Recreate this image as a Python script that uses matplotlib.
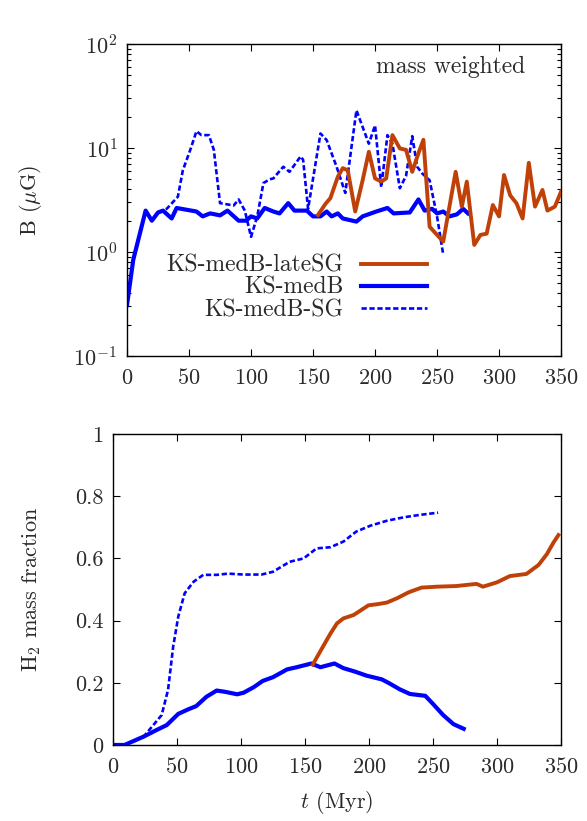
import numpy as np
import matplotlib
matplotlib.use('Agg')
import matplotlib.pyplot as plt
from matplotlib.ticker import LogLocator, LogFormatterMathtext, NullFormatter, MultipleLocator

plt.rcParams['font.family'] = ['cmr10', 'DejaVu Serif']
plt.rcParams['mathtext.fontset'] = 'cm'
plt.rcParams['axes.formatter.use_mathtext'] = True
plt.rcParams['font.size'] = 16

orange = '#c04108'
blue = '#0000ff'
txt = '#2a2a2a'
fs = 16

#%% B field, mass weighted (Myr, muG)
t_B = [0, 5, 15, 20, 25, 29, 36, 40, 56, 61, 67, 75, 81, 90, 96, 100, 105, 111, 118, 123,
       130, 135, 145, 150, 156, 161, 165, 170, 174, 185, 190, 201, 210, 215, 228, 235, 240,
       246, 250, 255, 260, 266, 271, 275]
B_medB = [0.31, 0.84, 2.5, 2.0, 2.4, 2.5, 2.1, 2.65, 2.45, 2.2, 2.35, 2.25, 2.5, 2.0, 2.0, 2.2,
          2.1, 2.65, 2.45, 2.35, 2.95, 2.5, 2.5, 2.2, 2.2, 2.45, 2.2, 2.35, 2.1, 1.96, 2.2, 2.45,
          2.65, 2.35, 2.4, 3.2, 2.5, 2.6, 2.35, 2.45, 2.2, 2.3, 2.6, 2.35]

t_B_SG = [0, 5, 15, 20, 25, 32, 41, 45, 51, 56, 60, 66, 70, 75, 86, 90, 95, 100, 105, 110, 115,
          118, 126, 131, 140, 142, 146, 156, 161, 169, 176, 185, 195, 200, 205, 210, 214, 220,
          225, 230, 234, 238, 244, 250, 255]
B_SG = [0.31, 0.84, 2.5, 2.0, 2.4, 2.6, 3.4, 6.1, 9.6, 14.5, 13.3, 13.3, 9.6, 2.95, 2.8, 3.2,
        2.5, 1.4, 2.2, 4.6, 5.0, 5.1, 6.6, 5.9, 8.3, 7.7, 2.6, 13.8, 11.9, 6.6, 3.7, 23.0, 11.0,
        16.5, 4.2, 13.3, 11.0, 4.1, 5.4, 13.0, 6.6, 5.7, 4.9, 2.2, 0.94]

t_B_late = [154, 160, 164, 170, 174, 178, 184, 190, 195, 200, 205, 209, 214, 220, 225, 230, 235,
            239, 244, 250, 255, 259, 265, 270, 274, 280, 285, 290, 295, 300, 304, 309, 314, 319,
            324, 329, 335, 339, 345, 350]
B_late = [2.27, 2.9, 3.3, 5.3, 6.4, 6.1, 2.45, 4.9, 9.2, 5.1, 4.75, 5.1, 13.3, 9.9, 9.6, 5.9, 8.9,
          12.0, 1.75, 1.46, 1.26, 2.35, 5.9, 2.73, 4.75, 1.17, 1.46, 1.5, 2.83, 2.2, 5.5, 3.5, 2.95,
          2.1, 7.2, 2.73, 3.95, 2.5, 2.73, 3.8]

#%% H2 mass fraction
t_H2 = [0, 9, 24, 34, 42, 51, 59, 65, 73, 81, 87.5, 97, 102, 110, 117, 125, 136, 143.5, 155,
        162, 173, 180, 189, 198, 210, 216, 224, 232, 244, 250, 258, 266, 274]
f_medB = [0, 0, 0.027, 0.048, 0.064, 0.10, 0.115, 0.125, 0.155, 0.175, 0.171, 0.163, 0.168,
          0.186, 0.206, 0.218, 0.243, 0.25, 0.262, 0.25, 0.262, 0.247, 0.236, 0.223, 0.211,
          0.198, 0.179, 0.164, 0.158, 0.132, 0.096, 0.067, 0.052]

t_H2_SG = [0, 9, 24, 31.5, 38, 43, 47, 51, 56, 63, 70.5, 81, 90, 102, 116, 125, 138, 149, 159,
           170, 180, 190, 201, 214, 227, 240, 254]
f_SG = [0, 0, 0.027, 0.064, 0.096, 0.177, 0.316, 0.413, 0.488, 0.525, 0.547, 0.547, 0.551,
        0.548, 0.548, 0.557, 0.589, 0.60, 0.632, 0.636, 0.654, 0.686, 0.705, 0.721, 0.732,
        0.74, 0.747]

t_H2_late = [156, 164, 170, 175, 180, 188, 194, 199.5, 207, 214, 222, 231, 241, 253, 268, 284,
             289, 300, 310, 323, 332.5, 339, 344, 348]
f_late = [0.258, 0.316, 0.359, 0.391, 0.407, 0.418, 0.434, 0.449, 0.453, 0.458, 0.472, 0.491,
          0.506, 0.509, 0.511, 0.518, 0.509, 0.523, 0.543, 0.55, 0.579, 0.614, 0.65, 0.675]


def styleAx(ax):
    ax.tick_params(which='both', direction='in', top=True, right=True, colors='k',
                   labelcolor=txt, labelsize=fs)
    ax.tick_params(axis='x', pad=9)
    ax.tick_params(axis='y', pad=7)
    ax.tick_params(which='major', length=5, width=0.8)
    ax.tick_params(which='minor', length=3, width=0.8)
    for s in ax.spines.values():
        s.set_linewidth(1.0)


fig = plt.figure(figsize=(5.87, 8.21), dpi=100)

#%% top panel
ax1 = fig.add_axes([0.2164, 0.5664, 0.7394, 0.380])
ax1.plot(t_B_late, B_late, color=orange, lw=2.8, label='KS-medB-lateSG', zorder=3)
ax1.plot(t_B, B_medB, color=blue, lw=3.0, label='KS-medB', zorder=2)
ax1.plot(t_B_SG, B_SG, color=blue, lw=1.9, ls=(0, (2.0, 1.0)), label='KS-medB-SG', zorder=1)
ax1.set_yscale('log')
ax1.set_ylim(0.1, 100)
ax1.set_xlim(0, 350)
ax1.xaxis.set_major_locator(MultipleLocator(50))
ax1.yaxis.set_major_locator(LogLocator(base=10, numticks=10))
ax1.yaxis.set_major_formatter(LogFormatterMathtext())
ax1.yaxis.set_minor_locator(LogLocator(base=10, subs=np.arange(2, 10), numticks=20))
ax1.yaxis.set_minor_formatter(NullFormatter())
styleAx(ax1)
ax1.set_ylabel(r'B ($\mu$G)', color=txt, fontsize=fs, labelpad=21)
ax1.text(0.917, 0.926, 'mass weighted', transform=ax1.transAxes, ha='right', va='center',
         color=txt, fontsize=17)
leg = ax1.legend(loc='lower right', bbox_to_anchor=(0.692, 0.112), markerfirst=False,
                 frameon=False, handlelength=2.8, labelspacing=0.0, handletextpad=0.75,
                 borderpad=0, borderaxespad=0, fontsize=17)
for t in leg.get_texts():
    t.set_color(txt)

#%% bottom panel
ax2 = fig.add_axes([0.1925, 0.0926, 0.7632, 0.3788])
ax2.plot(t_H2_late, f_late, color=orange, lw=2.8, zorder=3)
ax2.plot(t_H2, f_medB, color=blue, lw=3.0, zorder=2)
ax2.plot(t_H2_SG, f_SG, color=blue, lw=1.9, ls=(0, (2.0, 1.0)), zorder=1)
ax2.set_xlim(0, 350)
ax2.set_ylim(0, 1)
ax2.xaxis.set_major_locator(MultipleLocator(50))
ax2.set_yticks([0, 0.2, 0.4, 0.6, 0.8, 1.0])
ax2.set_yticklabels(['0', '0.2', '0.4', '0.6', '0.8', '1'])
styleAx(ax2)
ax2.set_ylabel(r'H$_2$ mass fraction', color=txt, fontsize=fs, labelpad=23)
ax2.set_xlabel(r'$t$ (Myr)', color=txt, fontsize=fs, labelpad=8)

fig.savefig('out.png', dpi=100)
